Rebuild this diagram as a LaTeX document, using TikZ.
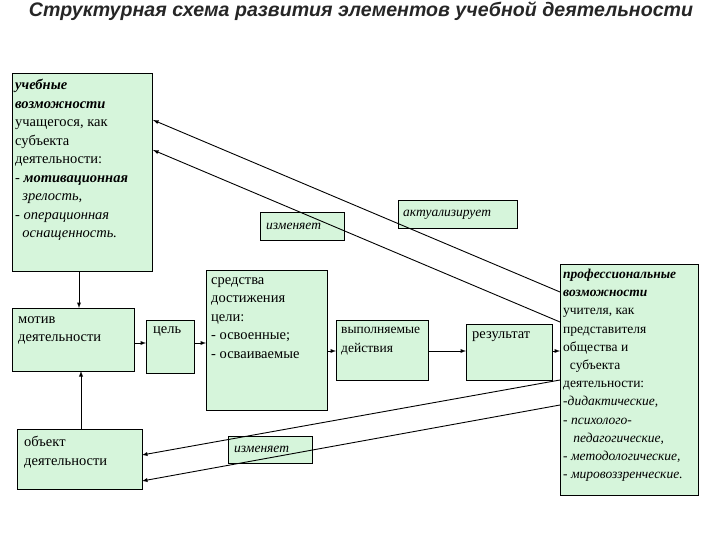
\documentclass[tikz,border=0pt]{standalone}
\usepackage{fontspec}
\setmainfont{Liberation Serif}
\newfontfamily\titlefont{Liberation Sans}
\begin{document}
\begin{tikzpicture}[x=1pt,y=-1pt,
  box/.style={draw=black,fill=boxgreen,line width=0.7pt,anchor=north west,inner sep=0pt},
  txt/.style={anchor=north west,align=left,inner sep=0pt,font=\fontsize{14.5}{18.5}\selectfont},
  lbl/.style={anchor=west,inner sep=0pt,font=\fontsize{13.5}{15}\selectfont\itshape},
  arr/.style={-latex,line width=0.9pt},
  ln/.style={line width=0.9pt}]
\definecolor{boxgreen}{HTML}{D6F5DB}
\useasboundingbox (0,0) rectangle (720,540);
\node[font=\titlefont\fontsize{19.6}{22}\selectfont\bfseries\itshape,text=black!85] (title) at (361,11) {Структурная схема развития элементов учебной деятельности};
% boxes
\node[box,minimum width=140,minimum height=198] (A) at (12,73) {};
\node[box,minimum width=122,minimum height=63] (M) at (12,308) {};
\node[box,minimum width=125,minimum height=60] (O) at (17,429) {};
\node[box,minimum width=48,minimum height=53] (C) at (146,320) {};
\node[box,minimum width=121,minimum height=140] (S) at (206,270) {};
\node[box,minimum width=92,minimum height=60] (V) at (336,320) {};
\node[box,minimum width=86,minimum height=56] (R) at (466,324) {};
\node[box,minimum width=138,minimum height=231] (P) at (560,264) {};
\node[box,minimum width=84,minimum height=28] (I1) at (260,212) {};
\node[box,minimum width=119,minimum height=28] (AK) at (398,200) {};
\node[box,minimum width=84,minimum height=27] (I2) at (228,436) {};
% texts
\node[txt] (tA) at (15,79) {\textbf{\itshape учебные}\\\textbf{\itshape возможности}\\учащегося, как\\субъекта\\деятельности:\\- \textbf{\itshape мотивационная}\\\ \ \textit{зрелость,}\\- \textit{операционная}\\\ \ \textit{оснащенность.}};
\node[txt] (tM) at (18,316) {мотив\\деятельности};
\node[txt] (tO) at (24,436) {объект\\деятельности};
\node[txt] (tC) at (153,326) {цель};
\node[txt] (tS) at (211,277) {средства\\достижения\\цели:\\- освоенные;\\- осваиваемые};
\node[txt,font=\fontsize{13.5}{18.5}\selectfont] (tV) at (341,327) {выполняемые\\действия};
\node[txt] (tR) at (472,331) {результат};
\node[txt,font=\fontsize{13.5}{18.2}\selectfont] (tP) at (563,269) {\textbf{\itshape профессиональные}\\\textbf{\itshape возможности}\\учителя, как\\представителя\\общества и\\\ \ субъекта\\деятельности:\\\textit{-дидактические,}\\\textit{- психолого-}\\\ \ \ \textit{педагогические,}\\\textit{- методологические,}\\\textit{- мировоззренческие.}};
\node[lbl] at (I1.west) [xshift=6] {изменяет};
\node[lbl] at (AK.west) [xshift=5] {актуализирует};
\node[lbl] at (I2.west) [xshift=6] {изменяет};
% connectors
\draw[arr] (79,271) -- (79,308);
\draw[arr] (81,429) -- (81,371);
\draw[arr] (M.east |- 0,343) -- (C.west |- 0,343);
\draw[arr] (C.east |- 0,343) -- (S.west |- 0,343);
\draw[arr] (S.east |- 0,351) -- (V.west |- 0,351);
\draw[arr] (V.east |- 0,351) -- (R.west |- 0,351);
\draw[arr] (R.east |- 0,351) -- (P.west |- 0,351);
\coordinate (p1) at (560,292);
\coordinate (p2) at (560,322);
\coordinate (p3) at (560,380);
\coordinate (p4) at (560,405);
\draw[arr] (p1) -- (153,120);
\draw[arr] (p2) -- (153,150);
\draw[arr] (p3) -- (142,455);
\draw[arr] (p4) -- (142,481);
\end{tikzpicture}
\end{document}
